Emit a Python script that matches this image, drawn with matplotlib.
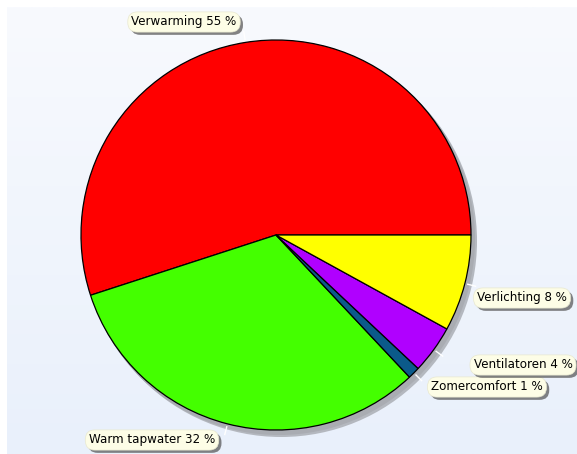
import numpy as np
import matplotlib
matplotlib.use("Agg")
import matplotlib.pyplot as plt
from matplotlib.patches import Circle
from matplotlib import patheffects

labels = ["Verwarming", "Warm tapwater", "Zomercomfort", "Ventilatoren", "Verlichting"]
values = [55, 32, 1, 4, 8]
colors = ["#ff0000", "#44ff00", "#0b5a8a", "#b000ff", "#ffff00"]
# label box centre positions (pixels, y from top)
label_pos = [(184, 22), (152, 440), (487, 387), (523, 365), (522, 298)]

W, H = 577, 454
fig = plt.figure(figsize=(W / 100, H / 100), dpi=100)
fig.patch.set_facecolor("white")
ax = fig.add_axes([0, 0, 1, 1])

# background gradient panel
grad = np.linspace(0, 1, 256)[:, None]
top = np.array([248, 250, 254]) / 255
bot = np.array([233, 240, 251]) / 255
img = top[None, None, :] * (1 - grad[:, :, None]) + bot[None, None, :] * grad[:, :, None]
ax.imshow(img, extent=[7, W, 0, H - 7], aspect="auto", zorder=0)

cx, cy, r = 276, H - 235, 195
# shadow
ax.add_patch(Circle((cx + 5, cy - 6), r + 1, color="#b4b8bf", zorder=1, lw=0))
ax.add_patch(Circle((cx + 3, cy - 4), r + 1, color="#a9acb2", zorder=1, lw=0))

wedges, _ = ax.pie(values, colors=colors, startangle=0, counterclock=True,
                   center=(cx, cy), radius=r, frame=True,
                   wedgeprops=dict(edgecolor="black", linewidth=0.9))
for w in wedges:
    w.set_zorder(2)
ax.set_xlim(0, W)
ax.set_ylim(0, H)
ax.set_aspect("equal")
ax.axis("off")

for w, lab, v, (lx, ly) in zip(wedges, labels, values, label_pos):
    ang = np.deg2rad((w.theta1 + w.theta2) / 2)
    x0, y0 = cx + (r + 3) * np.cos(ang), cy + (r + 3) * np.sin(ang)
    x1, y1 = cx + (r + 11) * np.cos(ang), cy + (r + 11) * np.sin(ang)
    ax.plot([x0, x1], [y0, y1], color="white", lw=1.0, zorder=3)
    txt = f"{lab} {v} %"
    t = ax.text(lx, H - ly, txt, ha="center", va="center", fontsize=8.6,
                color="black", zorder=5,
                bbox=dict(boxstyle="round,pad=0.3,rounding_size=0.8", fc="#fdfde6",
                          ec="#e8e8d0", lw=0.5))
    t.get_bbox_patch().set_path_effects([
        patheffects.SimplePatchShadow(offset=(2, -2), shadow_rgbFace="#505050", alpha=0.7),
        patheffects.Normal()])

fig.savefig("out.png", dpi=100)
